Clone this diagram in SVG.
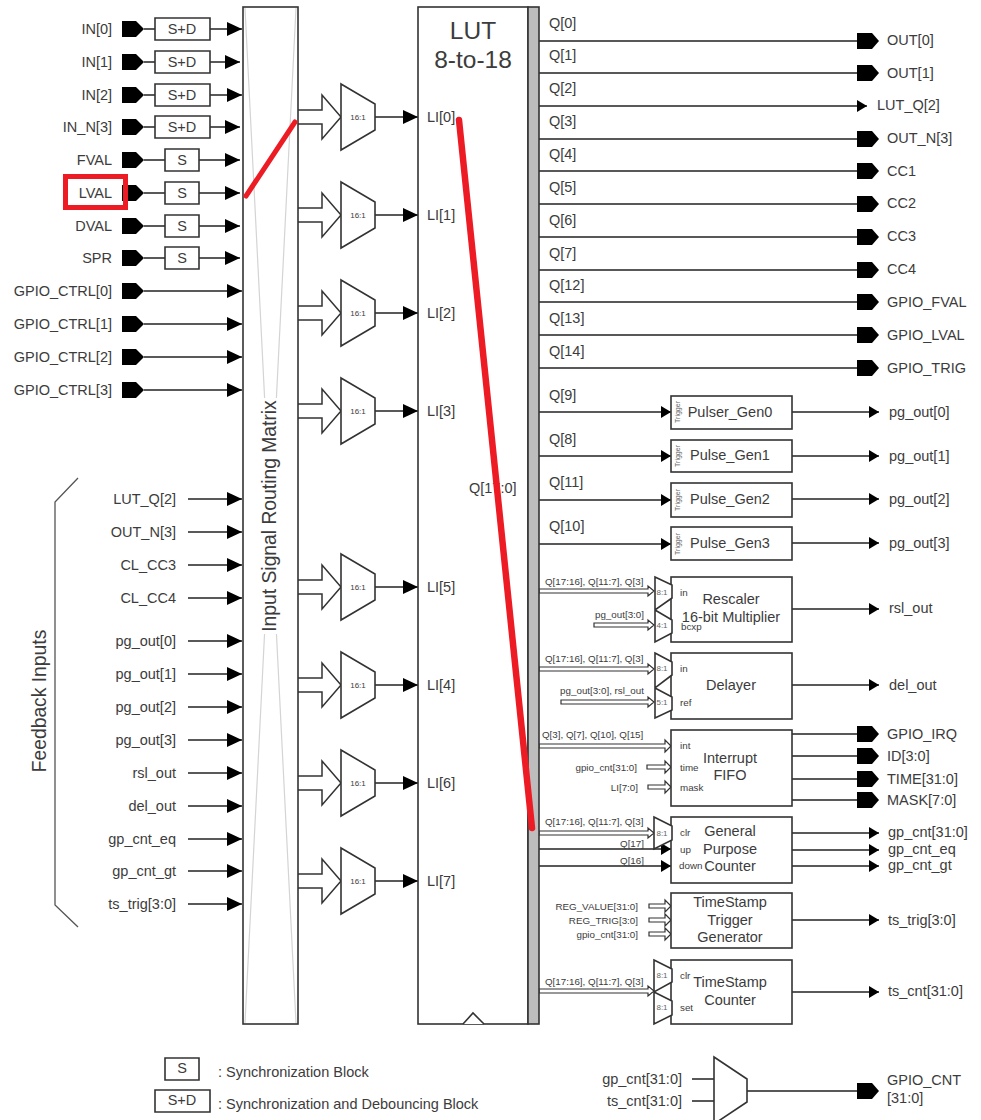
<svg xmlns="http://www.w3.org/2000/svg" width="981" height="1120" viewBox="0 0 981 1120">
<style>
text{font-family:"Liberation Sans",Arial,sans-serif;fill:#3c3c3c;font-size:14.5px;dominant-baseline:central}
.e{text-anchor:end}.m{text-anchor:middle}
.s9{font-size:9.8px}.s7{font-size:8px}.s6{font-size:7px}
.f{fill:#666}
.b{fill:#fff;stroke:#333;stroke-width:1.6}
.w{fill:none;stroke:#222;stroke-width:1.5}
.a{marker-end:url(#ah)}.q{marker-end:url(#sh)}
.h{fill:#fff;stroke:#333;stroke-width:1.5}
.bus{fill:#fff;stroke:#333;stroke-width:1.2}
</style>
<defs>
<marker id="ah" markerUnits="userSpaceOnUse" markerWidth="15" markerHeight="14" refX="15" refY="7" orient="auto"><path d="M0 0L15 7L0 14Z" fill="#000"/></marker>
<marker id="sh" markerUnits="userSpaceOnUse" markerWidth="10" markerHeight="12" refX="10" refY="6" orient="auto"><path d="M0 0L10 6L0 12Z" fill="#000"/></marker>
<path id="pin" d="M0-8H14L22 0L14 8H0Z" fill="#000"/>
<path id="pout" d="M0-8H15L22 0L15 8H0Z" fill="#000"/>
<g id="mux"><path class="b" d="M341-33L375-13V13L341 33Z"/><text class="s7 m" x="358" y="0">16:1</text></g>
<path id="fat" class="h" d="M298-7H322V-22L341 0L322 22V7H298"/>
<path id="sdb" class="b" d="M155-11H210V11H155Z"/>
<path id="sb" class="b" d="M165-11H199V11H165Z"/>
</defs>

<g id="connectors">
<path class="w a" d="M144 29H242"/><path class="w a" d="M144 62H240"/><path class="w a" d="M144 95H242"/><path class="w a" d="M144 127H240"/>
<path class="w a" d="M144 160H240"/><path class="w a" d="M144 193H240"/><path class="w a" d="M144 226H240"/><path class="w a" d="M144 258H240"/>
<path class="w a" d="M144 291H242"/><path class="w a" d="M144 324H242"/><path class="w a" d="M144 357H242"/><path class="w a" d="M144 390H242"/>
<path class="w a" d="M188 499H242"/><path class="w a" d="M188 532H242"/><path class="w a" d="M188 565H242"/><path class="w a" d="M188 598H242"/>
<path class="w a" d="M188 641H242"/><path class="w a" d="M188 674H242"/><path class="w a" d="M188 707H242"/><path class="w a" d="M188 740H242"/>
<path class="w a" d="M188 773H242"/><path class="w a" d="M188 806H242"/><path class="w a" d="M188 839H242"/><path class="w a" d="M188 871H242"/><path class="w a" d="M188 904H242"/>
<path class="w a" d="M375 117H418"/><path class="w a" d="M375 215H418"/><path class="w a" d="M375 313H418"/><path class="w a" d="M375 411H418"/>
<path class="w a" d="M375 587H418"/><path class="w a" d="M375 685H418"/><path class="w a" d="M375 783H418"/><path class="w a" d="M375 881H418"/>
<path class="w" d="M539 41H858M539 73H858M539 139H858M539 171H858M539 204H858M539 237H858M539 270H858M539 302H858M539 335H858M539 368H858"/>
<path class="w q" d="M539 106H867"/>
<path class="w q" d="M539 412H671"/><path class="w q" d="M539 456H671"/><path class="w q" d="M539 500H671"/><path class="w q" d="M539 544H671"/>
<path class="w q" d="M792 412H879"/><path class="w q" d="M792 456H879"/><path class="w q" d="M792 499H879"/><path class="w q" d="M792 543H879"/>
<path class="w q" d="M792 609H879"/><path class="w q" d="M792 685H879"/>
<path class="w" d="M792 734H858M792 756H858M792 779H858M792 800H858M747 1091H858M692 1079H714M692 1101H714"/>
<path class="w q" d="M539 849H671"/><path class="w q" d="M539 866H671"/>
<path class="w q" d="M792 833H879"/><path class="w q" d="M792 850H879"/><path class="w q" d="M792 866H879"/>
<path class="w q" d="M792 920H879"/><path class="w q" d="M792 992H879"/>
<path class="bus" d="M539 589H648V586L654 591L648 596V593H539Z"/>
<path class="bus" d="M594 623H648V620L654 625L648 630V627H594Z"/>
<path class="bus" d="M539 667H648V664L654 669L648 674V671H539Z"/>
<path class="bus" d="M561 700H648V697L654 702L648 707V704H561Z"/>
<path class="bus" d="M539 744H665V740L671 746L665 752V748H539Z"/>
<path class="bus" d="M647 765H665V761L671 767L665 773V769H647Z"/>
<path class="bus" d="M648 785H665V781L671 787L665 793V789H648Z"/>
<path class="bus" d="M539 831H648V828L654 833L648 838V835H539Z"/>
<path class="bus" d="M649 904H665V900L671 906L665 912V908H649Z"/>
<path class="bus" d="M649 918H665V914L671 920L665 926V922H649Z"/>
<path class="bus" d="M649 932H665V928L671 934L665 940V936H649Z"/>
<path class="bus" d="M539 989H648V986L654 991L648 996V993H539Z"/>
<use href="#fat" y="117"/><use href="#fat" y="215"/><use href="#fat" y="313"/><use href="#fat" y="411"/>
<use href="#fat" y="587"/><use href="#fat" y="685"/><use href="#fat" y="783"/><use href="#fat" y="881"/>
</g>

<g id="matrix"><rect class="b" x="243" y="7" width="55" height="1017"/>
<path d="M245 8L296 1023M296 8L245 1023" fill="none" stroke="#d4d4d4" stroke-width="1.2"/>
<rect x="260" y="398" width="21" height="236" fill="#fff"/>
<text class="m" transform="translate(269 516) rotate(-90)" style="font-size:19.3px">Input Signal Routing Matrix</text></g>

<g id="lut"><rect class="b" x="418" y="7" width="110" height="1017"/><path class="b" d="M463 1024L473 1013L484 1024"/>
<text class="m" x="473" y="30" style="font-size:24.5px">LUT</text><text class="m" x="473" y="59" style="font-size:24.5px">8-to-18</text>
<text x="427" y="117">LI[0]</text><text x="427" y="215">LI[1]</text><text x="427" y="313">LI[2]</text><text x="427" y="411">LI[3]</text>
<text x="427" y="587">LI[5]</text><text x="427" y="685">LI[4]</text><text x="427" y="783">LI[6]</text><text x="427" y="881">LI[7]</text>
<text x="469" y="488">Q[17:0]</text></g>
<rect id="qbar" x="528" y="7" width="11" height="1017" fill="#bdbdbd" stroke="#333" stroke-width="1.6"/>

<g id="inputs">
<text class="e" x="112" y="29">IN[0]</text><use href="#pin" x="122" y="29"/><use href="#sdb" y="29"/><text class="m" x="182" y="29">S+D</text>
<text class="e" x="112" y="62">IN[1]</text><use href="#pin" x="122" y="62"/><use href="#sdb" y="62"/><text class="m" x="182" y="62">S+D</text>
<text class="e" x="112" y="95">IN[2]</text><use href="#pin" x="122" y="95"/><use href="#sdb" y="95"/><text class="m" x="182" y="95">S+D</text>
<text class="e" x="112" y="127">IN_N[3]</text><use href="#pin" x="122" y="127"/><use href="#sdb" y="127"/><text class="m" x="182" y="127">S+D</text>
<text class="e" x="112" y="160">FVAL</text><use href="#pin" x="122" y="160"/><use href="#sb" y="160"/><text class="m" x="182" y="160">S</text>
<text class="e" x="112" y="193">LVAL</text><use href="#pin" x="122" y="193"/><use href="#sb" y="193"/><text class="m" x="182" y="193">S</text>
<text class="e" x="112" y="226">DVAL</text><use href="#pin" x="122" y="226"/><use href="#sb" y="226"/><text class="m" x="182" y="226">S</text>
<text class="e" x="112" y="258">SPR</text><use href="#pin" x="122" y="258"/><use href="#sb" y="258"/><text class="m" x="182" y="258">S</text>
<text class="e" x="112" y="291">GPIO_CTRL[0]</text><use href="#pin" x="122" y="291"/>
<text class="e" x="112" y="324">GPIO_CTRL[1]</text><use href="#pin" x="122" y="324"/>
<text class="e" x="112" y="357">GPIO_CTRL[2]</text><use href="#pin" x="122" y="357"/>
<text class="e" x="112" y="390">GPIO_CTRL[3]</text><use href="#pin" x="122" y="390"/>
</g>

<g id="feedback">
<path d="M78 478L55 502V905L78 927" fill="none" stroke="#555" stroke-width="1.3"/>
<text class="m" transform="translate(39 701) rotate(-90)" style="font-size:19.3px">Feedback Inputs</text>
<text class="e" x="176" y="499">LUT_Q[2]</text><text class="e" x="176" y="532">OUT_N[3]</text><text class="e" x="176" y="565">CL_CC3</text><text class="e" x="176" y="598">CL_CC4</text>
<text class="e" x="176" y="641">pg_out[0]</text><text class="e" x="176" y="674">pg_out[1]</text><text class="e" x="176" y="707">pg_out[2]</text><text class="e" x="176" y="740">pg_out[3]</text>
<text class="e" x="176" y="773">rsl_out</text><text class="e" x="176" y="806">del_out</text><text class="e" x="176" y="839">gp_cnt_eq</text><text class="e" x="176" y="871">gp_cnt_gt</text><text class="e" x="176" y="904">ts_trig[3:0]</text>
</g>

<g id="muxes"><use href="#mux" y="117"/><use href="#mux" y="215"/><use href="#mux" y="313"/><use href="#mux" y="411"/><use href="#mux" y="587"/><use href="#mux" y="685"/><use href="#mux" y="783"/><use href="#mux" y="881"/></g>

<g id="q-outputs">
<text x="549" y="23">Q[0]</text><text x="549" y="55">Q[1]</text><text x="549" y="88">Q[2]</text><text x="549" y="121">Q[3]</text><text x="549" y="154">Q[4]</text><text x="549" y="187">Q[5]</text><text x="549" y="220">Q[6]</text><text x="549" y="253">Q[7]</text><text x="549" y="285">Q[12]</text><text x="549" y="318">Q[13]</text><text x="549" y="351">Q[14]</text>
<use href="#pout" x="857" y="41"/><use href="#pout" x="857" y="73"/><use href="#pout" x="857" y="139"/><use href="#pout" x="857" y="171"/><use href="#pout" x="857" y="204"/><use href="#pout" x="857" y="237"/><use href="#pout" x="857" y="270"/><use href="#pout" x="857" y="302"/><use href="#pout" x="857" y="335"/><use href="#pout" x="857" y="368"/>
<text x="887" y="40">OUT[0]</text><text x="887" y="73">OUT[1]</text><text x="877" y="105">LUT_Q[2]</text><text x="887" y="138">OUT_N[3]</text><text x="887" y="171">CC1</text><text x="887" y="203">CC2</text><text x="887" y="236">CC3</text><text x="887" y="269">CC4</text><text x="887" y="302">GPIO_FVAL</text><text x="887" y="335">GPIO_LVAL</text><text x="887" y="368">GPIO_TRIG</text>
</g>

<g id="pulse-gen0"><rect class="b" x="671" y="396" width="121" height="33"/><text x="549" y="395">Q[9]</text><text class="s6 m f" transform="translate(677 412) rotate(-90)">Trigger</text><text class="m" x="730" y="412">Pulser_Gen0</text><text x="889" y="412">pg_out[0]</text></g>
<g id="pulse-gen1"><rect class="b" x="671" y="440" width="121" height="32"/><text x="549" y="439">Q[8]</text><text class="s6 m f" transform="translate(677 456) rotate(-90)">Trigger</text><text class="m" x="730" y="455">Pulse_Gen1</text><text x="889" y="456">pg_out[1]</text></g>
<g id="pulse-gen2"><rect class="b" x="671" y="483" width="121" height="34"/><text x="549" y="482">Q[11]</text><text class="s6 m f" transform="translate(677 500) rotate(-90)">Trigger</text><text class="m" x="730" y="499">Pulse_Gen2</text><text x="889" y="499">pg_out[2]</text></g>
<g id="pulse-gen3"><rect class="b" x="671" y="527" width="121" height="33"/><text x="549" y="526">Q[10]</text><text class="s6 m f" transform="translate(677 544) rotate(-90)">Trigger</text><text class="m" x="730" y="543">Pulse_Gen3</text><text x="889" y="543">pg_out[3]</text></g>

<g id="rescaler"><rect class="b" x="671" y="577" width="121" height="65"/>
<path class="b" d="M655 577L672 585V598L655 610ZM655 610L672 620V633L655 642Z"/>
<text class="s7 m f" x="662" y="592">8:1</text><text class="s7 m f" x="662" y="625">4:1</text>
<text class="s9" x="680" y="592">in</text><text class="s9" x="681" y="626">bcxp</text>
<text class="m" x="731" y="599">Rescaler</text><text class="m" x="731" y="617">16-bit Multiplier</text>
<text class="s9" x="545" y="581">Q[17:16], Q[11:7], Q[3]</text><text class="s9 e" x="644" y="614">pg_out[3:0]</text><text x="889" y="608">rsl_out</text></g>

<g id="delayer"><rect class="b" x="671" y="653" width="121" height="66"/>
<path class="b" d="M655 653L672 662V675L655 688ZM655 688L672 697V710L655 718Z"/>
<text class="s7 m f" x="662" y="668">8:1</text><text class="s7 m f" x="662" y="702">5:1</text>
<text class="s9" x="680" y="668">in</text><text class="s9" x="680" y="702">ref</text>
<text class="m" x="731" y="685">Delayer</text>
<text class="s9" x="545" y="658">Q[17:16], Q[11:7], Q[3]</text><text class="s9 e" x="644" y="690">pg_out[3:0], rsl_out</text><text x="889" y="685">del_out</text></g>

<g id="interrupt-fifo"><rect class="b" x="671" y="730" width="121" height="76"/>
<text class="s9" x="680" y="745">int</text><text class="s9" x="680" y="767">time</text><text class="s9" x="680" y="787">mask</text>
<text class="m" x="730" y="758">Interrupt</text><text class="m" x="730" y="775">FIFO</text>
<text class="s9" x="542" y="734">Q[3], Q[7], Q[10], Q[15]</text><text class="s9 e" x="637" y="767">gpio_cnt[31:0]</text><text class="s9 e" x="638" y="787">LI[7:0]</text>
<use href="#pout" x="857" y="734"/><use href="#pout" x="857" y="756"/><use href="#pout" x="857" y="779"/><use href="#pout" x="857" y="800"/>
<text x="887" y="734">GPIO_IRQ</text><text x="887" y="756">ID[3:0]</text><text x="887" y="779">TIME[31:0]</text><text x="887" y="800">MASK[7:0]</text></g>

<g id="gp-counter"><rect class="b" x="671" y="817" width="121" height="66"/>
<path class="b" d="M654 817L672 826V840L654 849Z"/><text class="s7 m f" x="662" y="833">8:1</text>
<text class="s9" x="680" y="832">clr</text><text class="s9" x="680" y="849">up</text><text class="s9" x="679" y="865">down</text>
<text class="m" x="730" y="831">General</text><text class="m" x="730" y="849">Purpose</text><text class="m" x="730" y="866">Counter</text>
<text class="s9" x="545" y="821">Q[17:16], Q[11:7], Q[3]</text><text class="s9 e" x="644" y="843">Q[17]</text><text class="s9 e" x="644" y="860">Q[16]</text>
<text x="888" y="832">gp_cnt[31:0]</text><text x="888" y="849">gp_cnt_eq</text><text x="888" y="865">gp_cnt_gt</text></g>

<g id="ts-trigger"><rect class="b" x="671" y="893" width="121" height="55"/>
<text class="m" x="730" y="902">TimeStamp</text><text class="m" x="730" y="920">Trigger</text><text class="m" x="730" y="937">Generator</text>
<text class="s9 e" x="638" y="906">REG_VALUE[31:0]</text><text class="s9 e" x="638" y="920">REG_TRIG[3:0]</text><text class="s9 e" x="638" y="934">gpio_cnt[31:0]</text>
<text x="888" y="920">ts_trig[3:0]</text></g>

<g id="ts-counter"><rect class="b" x="671" y="960" width="121" height="64"/>
<path class="b" d="M654 960L672 969V982L654 992ZM654 992L672 1001V1015L654 1024Z"/>
<text class="s7 m f" x="662" y="975">8:1</text><text class="s7 m f" x="662" y="1007">8:1</text>
<text class="s9" x="680" y="975">clr</text><text class="s9" x="680" y="1007">set</text>
<text class="m" x="730" y="982">TimeStamp</text><text class="m" x="730" y="1000">Counter</text>
<text class="s9" x="545" y="981">Q[17:16], Q[11:7], Q[3]</text><text x="888" y="991">ts_cnt[31:0]</text></g>

<g id="legend"><use href="#sb" y="1069"/><text class="m" x="182" y="1068">S</text><use href="#sdb" y="1101"/><text class="m" x="182" y="1100">S+D</text>
<text x="218" y="1072">: Synchronization Block</text><text x="218" y="1104">: Synchronization and Debouncing Block</text></g>

<g id="gpio-cnt-mux"><path class="b" d="M714 1057L747 1079V1102L714 1124Z"/><use href="#pout" x="857" y="1091"/>
<text class="e" x="682" y="1079">gp_cnt[31:0]</text><text class="e" x="682" y="1101">ts_cnt[31:0]</text>
<text x="887" y="1080">GPIO_CNT</text><text x="887" y="1098">[31:0]</text></g>

<g id="annotations">
<rect x="65.5" y="176.5" width="60" height="31" fill="none" stroke="#ed1c24" stroke-width="5"/>
<path d="M246 196L295 122" fill="none" stroke="#ed1c24" stroke-width="5" stroke-linecap="round"/>
<path d="M459 120L532 828" fill="none" stroke="#ed1c24" stroke-width="6.5" stroke-linecap="round"/>
</g>
</svg>
